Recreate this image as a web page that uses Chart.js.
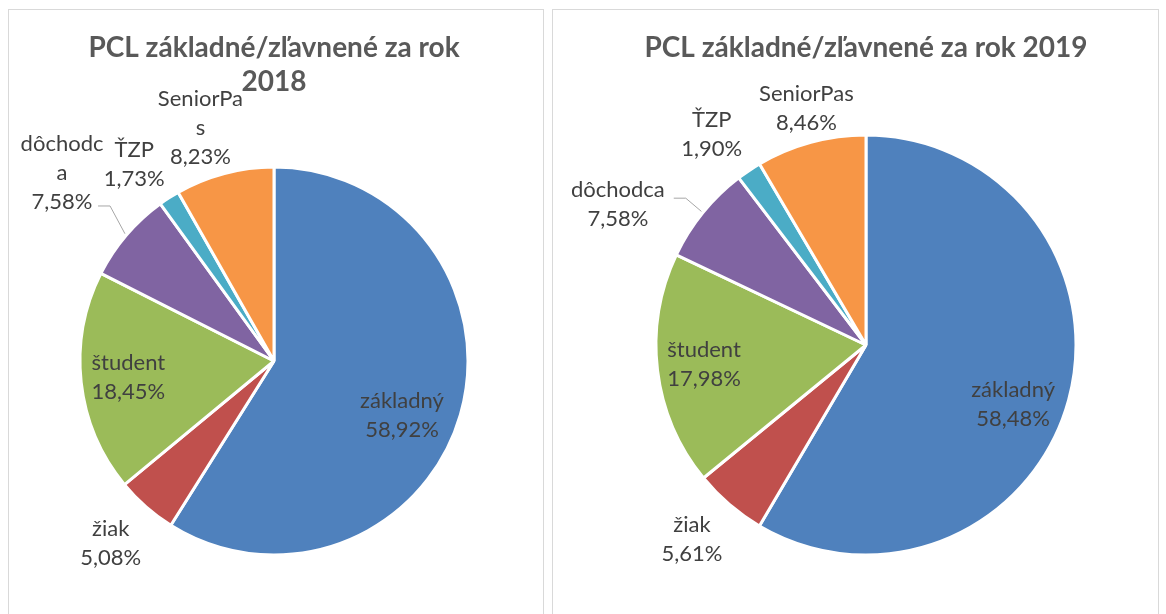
<!DOCTYPE html>
<html lang="sk">
<head>
<meta charset="utf-8">
<title>PCL základné/zľavnené</title>
<script src="https://cdn.jsdelivr.net/npm/chart.js@4"></script>
<style>
    body { margin: 0; background: #fff; width: 1166px; height: 614px; overflow: hidden; position: relative; }
    .panel { position: absolute; border: 1px solid #d9d9d9; box-sizing: border-box; overflow: hidden; }
    #panel-2018 { left: 8px; top: 9px; width: 536px; height: 700px; }
    #panel-2019 { left: 552px; top: 9px; width: 607px; height: 700px; }
    canvas { position: absolute; left: 0; top: 0; }
</style>
</head>
<body>
<div class="panel" id="panel-2018"><canvas id="chart-2018" width="534" height="660"></canvas></div>
<div class="panel" id="panel-2019"><canvas id="chart-2019" width="605" height="660"></canvas></div>

<script>
// Dáta
const categories = ['základný', 'žiak', 'študent', 'dôchodca', 'ŤZP', 'SeniorPas'];
const share2018 = [58.92, 5.08, 18.45, 7.58, 1.73, 8.23];
const share2019 = [58.48, 5.61, 17.98, 7.58, 1.90, 8.46];
const title2018 = ['PCL základné/zľavnené za rok', '2018'];
const title2019 = 'PCL základné/zľavnené za rok 2019';

const sliceColors = ['#4f81bd', '#c0504d', '#9bbb59', '#8064a2', '#4bacc6', '#f79646'];
const LINE = 29;

// Umiestnenie popiskov: [násobok polomeru, posun uhla v stupňoch]
const place2018 = [[0.716, 6.8], [1.261, 0.6], [0.755, 0.1], [1.461, 1.1], [1.242, -2.7], [1.26, -2.7]];
const place2019 = [[0.755, 6.7], [1.243, 1.2], [0.777, 0], [1.357, -9.6], [1.242, -2.4], [1.164, 1.1]];

function fmt(v) {
    return v.toFixed(2).replace('.', ',') + '%';
}

// zalomenie po znakoch (ako Excel pri úzkych popiskoch)
function wrap(ctx, text, maxW) {
    const out = [];
    let cur = '';
    for (const ch of text) {
        if (cur && ctx.measureText(cur + ch).width > maxW) {
            out.push(cur);
            cur = ch;
        } else {
            cur += ch;
        }
    }
    if (cur) out.push(cur);
    return out;
}

const sliceLabels = {
    id: 'sliceLabels',
    afterDatasetsDraw(chart, args, opts) {
        const ctx = chart.ctx;
        const meta = chart.getDatasetMeta(0);
        const values = chart.data.datasets[0].data;
        ctx.save();
        ctx.font = '22px Lato';
        ctx.fillStyle = '#404040';
        ctx.textAlign = 'center';
        ctx.textBaseline = 'middle';
        meta.data.forEach((arc, i) => {
            const p = arc.getProps(['x', 'y', 'startAngle', 'endAngle', 'outerRadius'], true);
            const mid = (p.startAngle + p.endAngle) / 2;
            const [f, d] = opts.place[i];
            const a = mid + d * Math.PI / 180;
            const cx = p.x + Math.cos(a) * p.outerRadius * f;
            const cy = p.y + Math.sin(a) * p.outerRadius * f;
            const lines = wrap(ctx, chart.data.labels[i], f > 1 ? opts.wrap : 1e6);
            lines.push(fmt(values[i]));
            const top = cy - (lines.length - 1) * LINE / 2;
            lines.forEach((t, k) => ctx.fillText(t, cx, top + k * LINE));

            const ld = opts.leaders[i];
            if (ld) {
                const r = p.outerRadius;
                const ax = p.x + Math.cos(mid) * (r + 2);
                const ay = p.y + Math.sin(mid) * (r + 2);
                const b = mid + ld.d * Math.PI / 180;
                const bx = p.x + Math.cos(b) * r * ld.f;
                const by = p.y + Math.sin(b) * r * ld.f;
                ctx.beginPath();
                ctx.strokeStyle = '#a6a6a6';
                ctx.lineWidth = 1;
                ctx.moveTo(ax, ay);
                ctx.lineTo(bx, by);
                ctx.lineTo(bx - ld.len, by);
                ctx.stroke();
            }
        });
        ctx.restore();
    }
};

function makePie(id, title, values, radius, padding, labelOpts) {
    const ctx = document.getElementById(id).getContext('2d');
    return new Chart(ctx, {
        type: 'pie',
        data: {
            labels: categories,
            datasets: [{
                data: values,
                backgroundColor: sliceColors,
                borderColor: '#ffffff',
                borderWidth: 3,
                radius: radius
            }]
        },
        options: {
            responsive: false,
            animation: false,
            events: [],
            layout: { padding: padding },
            plugins: {
                legend: { display: false },
                tooltip: { enabled: false },
                title: {
                    display: true,
                    text: title,
                    color: '#595959',
                    font: { family: 'Lato', size: 28, weight: 'bold', lineHeight: 1.214 },
                    padding: { top: 21, bottom: 0 }
                },
                sliceLabels: labelOpts
            }
        },
        plugins: [sliceLabels]
    });
}

makePie('chart-2018', title2018, share2018, 194,
    { left: 0, right: 4, top: 0, bottom: 47 },
    { place: place2018, wrap: 88, leaders: { 3: { f: 1.163, d: 2.9, len: 12 } } });

makePie('chart-2019', title2019, share2019, 210,
    { left: 21, right: 0, top: 0, bottom: 45 },
    { place: place2019, wrap: 1e6, leaders: { 3: { f: 1.107, d: 0.1, len: 12 } } });
</script>
</body>
</html>
